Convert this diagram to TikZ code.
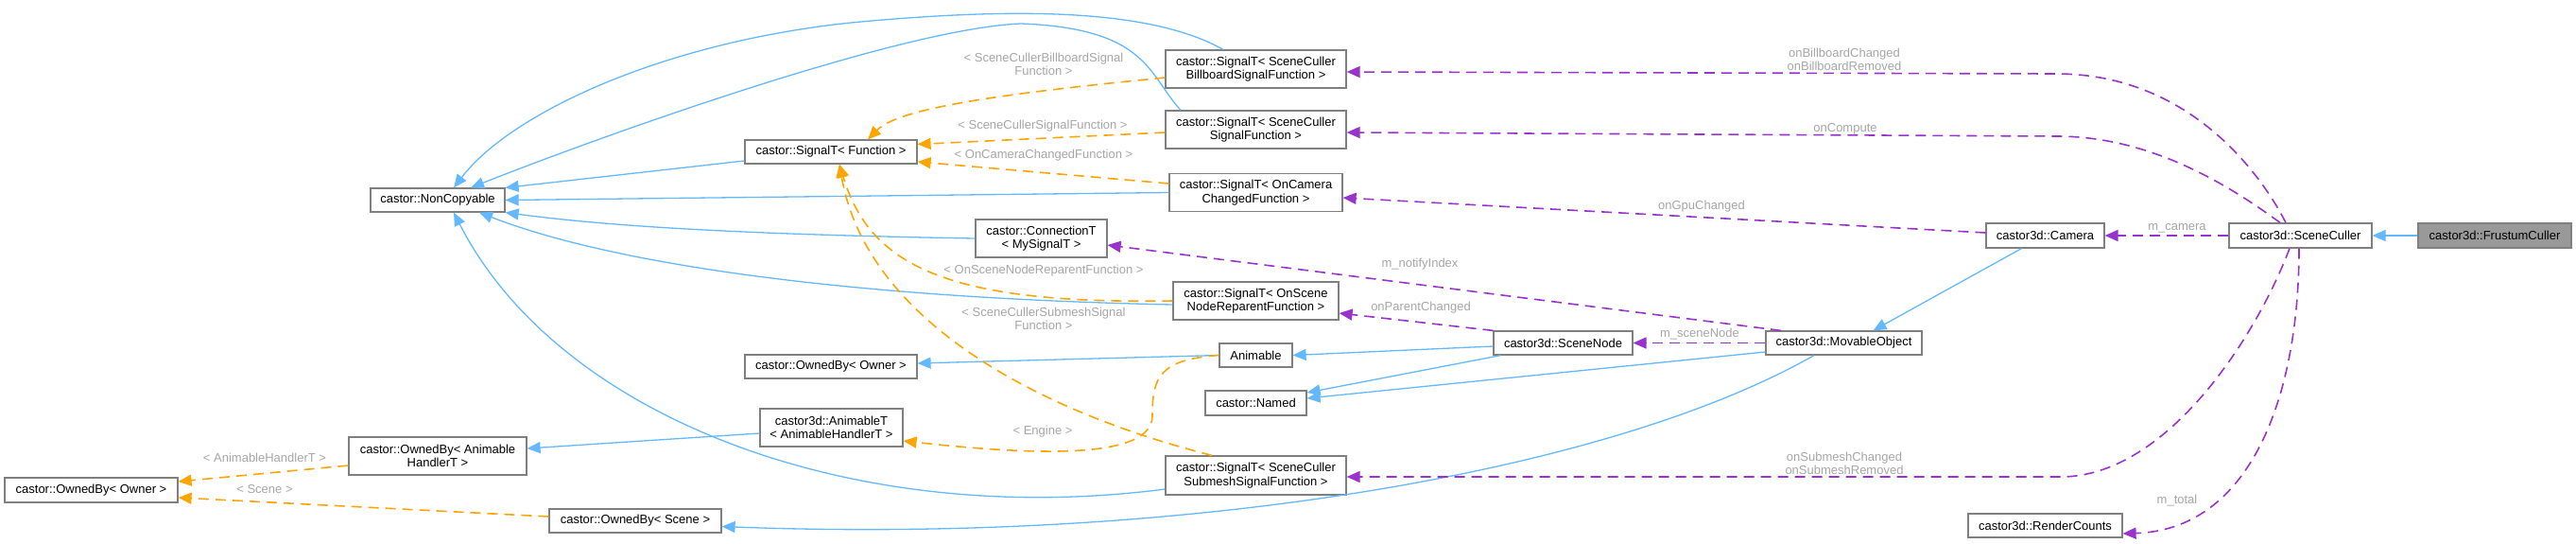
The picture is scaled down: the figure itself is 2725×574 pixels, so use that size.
\documentclass[tikz,border=0pt]{standalone}
\usepackage{fontspec}
\setmainfont{Liberation Sans}
\usetikzlibrary{arrows.meta}

\definecolor{inhblue}{HTML}{63B8FF}
\definecolor{tplorange}{HTML}{FFA500}
\definecolor{usepurple}{HTML}{9A32CD}
\definecolor{lblgray}{HTML}{A6A6A6}
\definecolor{boxgray}{HTML}{7F7F7F}
\definecolor{focusgray}{HTML}{999999}

\begin{document}
\begin{tikzpicture}[x = 1pt, y = -1pt,
	every node/.style = {font = \fontsize{13}{14.3}\selectfont},
	cls/.style = {draw = boxgray, line width = 1.2pt, fill = white, inner sep = 2pt, align = center, minimum height = 25pt},
	cls2/.style = {cls, minimum height = 40pt},
	lbl/.style = {text = lblgray, align = center, inner sep = 1pt},
	inh/.style = {draw = inhblue, line width = 1.3pt, -{Triangle[length = 14pt, width = 12pt]}},
	tpl/.style = {draw = tplorange, line width = 1.6pt, dash pattern = on 11pt off 7pt, -{Triangle[length = 14pt, width = 12pt]}},
	member/.style = {draw = usepurple, line width = 1.6pt, dash pattern = on 11pt off 7pt, -{Triangle[length = 14pt, width = 12pt]}}]
	\useasboundingbox (0, 0) rectangle (2725, 574);

	\node[cls, minimum width = 142pt] (nc) at (463, 211.5){castor::NonCopyable};
	\node[cls, minimum width = 182pt] (sigfn) at (879, 160.5){castor::SignalT< Function >};
	\node[cls2, minimum width = 191pt] (sigbb) at (1328.5, 73){castor::SignalT< SceneCuller\\BillboardSignalFunction >};
	\node[cls2, minimum width = 191pt] (sigsc) at (1328.5, 137){castor::SignalT< SceneCuller\\SignalFunction >};
	\node[cls2, minimum width = 183pt] (sigcam) at (1328.5, 203.5){castor::SignalT< OnCamera\\ChangedFunction >};
	\node[cls2, minimum width = 139pt] (conn) at (1101.5, 252){castor::ConnectionT\\< MySignalT >};
	\node[cls2, minimum width = 175pt] (sigsn) at (1328.5, 318){castor::SignalT< OnScene\\NodeReparentFunction >};
	\node[cls, minimum width = 77pt] (anim) at (1328.5, 375.5){Animable};
	\node[cls, minimum width = 107pt, minimum height = 26pt] (named) at (1328.5, 426){castor::Named};
	\node[cls2, minimum width = 191pt, minimum height = 41pt] (sigsm) at (1328.5, 502.5){castor::SignalT< SceneCuller\\SubmeshSignalFunction >};
	\node[cls, minimum width = 182pt] (ownmid) at (879, 387.5){castor::OwnedBy< Owner >};
	\node[cls2, minimum width = 151pt] (animt) at (879.5, 452){castor3d::AnimableT\\< AnimableHandlerT >};
	\node[cls, minimum width = 182pt] (ownscene) at (672, 550.5){castor::OwnedBy< Scene >};
	\node[cls2, minimum width = 188pt] (ownanim) at (463, 482){castor::OwnedBy< Animable\\HandlerT >};
	\node[cls, minimum width = 183pt, minimum height = 26pt] (ownleft) at (96.5, 518){castor::OwnedBy< Owner >};
	\node[cls, minimum width = 147pt] (snode) at (1653.5, 362.5){castor3d::SceneNode};
	\node[cls, minimum width = 165pt] (movable) at (1950.5, 362.5){castor3d::MovableObject};
	\node[cls, minimum width = 125pt, minimum height = 26pt] (camera) at (2163.5, 249){castor3d::Camera};
	\node[cls, minimum width = 163pt] (counts) at (2163.5, 555.5){castor3d::RenderCounts};
	\node[cls, minimum width = 151pt, minimum height = 26pt] (culler) at (2433.5, 249){castor3d::SceneCuller};
	\node[cls, minimum width = 162pt, minimum height = 26pt, fill = focusgray, draw = gray] (frustum) at (2639, 249){castor3d::FrustumCuller};

	\draw[inh] (frustum) -- (culler);
	\draw[inh] ([xshift = -25pt]camera.south) -- ([xshift = 31pt]movable.north);
	\draw[inh] ([yshift = -9.5pt]movable.west) -- ([yshift = 5pt]named.east);
	\draw[inh] ([xshift = -66pt]snode.south) -- ([yshift = 11pt]named.east);
	\draw[inh] ([yshift = -3.5pt]snode.west) -- (anim.east);
	\draw[inh] (anim.west) -- ([yshift = 3.5pt]ownmid.east);
	\draw[inh] ([yshift = -6pt]animt.west) -- ([yshift = 8pt]ownanim.east);
	\draw[inh] ([xshift = -31.5pt]movable.south) .. controls (1700, 500) and (1250, 575) .. ([yshift = -6pt]ownscene.east);
	\draw[inh] ([xshift = -34.5pt]sigbb.north) .. controls (1210, 5) and (1050, 10) .. (900, 24) .. controls (700, 45) and (540, 120) .. ([xshift = 17pt]nc.north);
	\draw[inh] ([xshift = -79.5pt]sigsc.north) .. controls (1215, 80) and (1215, 30) .. (1080, 25) .. controls (950, 30) and (620, 150) .. ([xshift = 35pt]nc.north);
	\draw[inh] ([yshift = -9.5pt]sigfn.west) -- (nc.north east);
	\draw[inh] (sigcam.west) -- (nc.east);
	\draw[inh] (conn.west) .. controls (800, 248) and (650, 240) .. (nc.south east);
	\draw[inh] ([yshift = -4pt]sigsn.west) .. controls (900, 315) and (650, 280) .. ([xshift = 44pt]nc.south);
	\draw[inh] ([yshift = -14.5pt]sigsm.west) .. controls (900, 560) and (590, 440) .. ([xshift = 17pt]nc.south);

	\draw[tpl] ([yshift = -9pt]sigbb.west) .. controls (1050, 100) and (950, 115) .. ([xshift = 39pt]sigfn.north);
	\draw[tpl] ([yshift = -3pt]sigsc.west) -- ([yshift = 8pt]sigfn.east);
	\draw[tpl] ([yshift = 9.5pt]sigcam.west) -- ([yshift = -10.5pt]sigfn.east);
	\draw[tpl] (sigsn.west) .. controls (1000, 322) and (920, 280) .. ([xshift = 9pt]sigfn.south);
	\draw[tpl] ([xshift = -46.5pt]sigsm.north) .. controls (1080, 430) and (915, 330) .. ([xshift = 9pt]sigfn.south);
	\draw[tpl] (anim.west) .. controls (1225, 380) and (1219, 400) .. (1219, 440) .. controls (1218, 485) and (1100, 482) .. ([yshift = -14pt]animt.east);
	\draw[tpl] ([yshift = -10pt]ownanim.west) -- ([yshift = 9pt]ownleft.east);
	\draw[tpl] ([yshift = 4.5pt]ownscene.west) -- ([yshift = -8pt]ownleft.east);

	\draw[member] ([xshift = -15.5pt]culler.north) .. controls (2395, 190) and (2320, 78) .. (2175, 78) -- ([yshift = -3pt]sigbb.east);
	\draw[member] ([xshift = -21.5pt]culler.north) .. controls (2350, 190) and (2270, 144) .. (2175, 144) -- ([yshift = -3pt]sigsc.east);
	\draw[member] ([yshift = 3pt]camera.west) -- ([yshift = -5.5pt]sigcam.east);
	\draw[member] (culler) -- (camera);
	\draw[member] ([xshift = -66.5pt]movable.north) -- ([yshift = -7pt]conn.east);
	\draw[member] (snode.north west) -- ([yshift = -13pt]sigsn.east);
	\draw[member] (movable) -- (snode);
	\draw[member] ([xshift = -11.5pt]culler.south) .. controls (2385, 360) and (2290, 504) .. (2180, 504) -- ([yshift = -1.5pt]sigsm.east);
	\draw[member] ([xshift = -1.5pt]culler.south) .. controls (2432, 420) and (2380, 560) .. ([yshift = -8.5pt]counts.east);

	\node[lbl] (lbBill) at (1104, 68){< SceneCullerBillboardSignal\\Function >};
	\node[lbl] (lbSig) at (1103, 133){< SceneCullerSignalFunction >};
	\node[lbl] (lbCam) at (1104, 164){< OnCameraChangedFunction >};
	\node[lbl] (lbReparent) at (1104, 286){< OnSceneNodeReparentFunction >};
	\node[lbl] (lbSubmesh) at (1104, 337){< SceneCullerSubmeshSignal\\Function >};
	\node[lbl] (lbEngine) at (1103, 456){< Engine >};
	\node[lbl] (lbHandler) at (280, 484){< AnimableHandlerT >};
	\node[lbl] (lbScene) at (280, 517){< Scene >};
	\node[lbl] (lbBillboard) at (1951, 63){onBillboardChanged\\onBillboardRemoved};
	\node[lbl] (lbCompute) at (1952, 136){onCompute};
	\node[lbl] (lbGpu) at (1800, 218){onGpuChanged};
	\node[lbl] (lbNotify) at (1502, 279){m\_notifyIndex};
	\node[lbl] (lbParent) at (1503, 325){onParentChanged};
	\node[lbl] (lbSceneNode) at (1798, 353){m\_sceneNode};
	\node[lbl] (lbSubmeshCh) at (1951, 490){onSubmeshChanged\\onSubmeshRemoved};
	\node[lbl] (lbCamera) at (2303, 241){m\_camera};
	\node[lbl] (lbTotal) at (2303, 529){m\_total};
\end{tikzpicture}
\end{document}
